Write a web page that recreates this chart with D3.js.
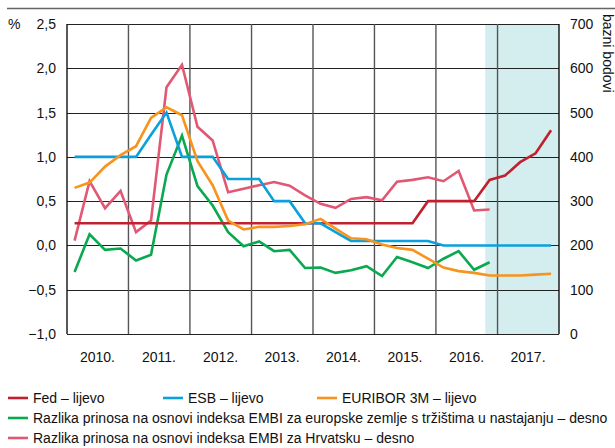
<!DOCTYPE html>
<html lang="hr">
<head>
<meta charset="utf-8">
<title>Kamatne stope i razlike prinosa</title>
<script src="https://cdn.jsdelivr.net/npm/d3@7"></script>
<style>
  body { margin: 0; background: #fff; }
  svg text { font-family: "Liberation Sans Narrow", "Arial Narrow", "Liberation Sans", sans-serif; fill: #111; }
</style>
</head>
<body>
<svg width="615" height="448"></svg>
<script>
// quarters (points sit at the middle of each quarter)
var quarters = ['2010Q1','2010Q2','2010Q3','2010Q4','2011Q1','2011Q2','2011Q3','2011Q4',
                '2012Q1','2012Q2','2012Q3','2012Q4','2013Q1','2013Q2','2013Q3','2013Q4',
                '2014Q1','2014Q2','2014Q3','2014Q4','2015Q1','2015Q2','2015Q3','2015Q4',
                '2016Q1','2016Q2','2016Q3','2016Q4','2017Q1','2017Q2','2017Q3','2017Q4'];
var years = [2010, 2011, 2012, 2013, 2014, 2015, 2016, 2017];
var leftTicks = [-1.0, -0.5, 0.0, 0.5, 1.0, 1.5, 2.0, 2.5];
var rightTicks = [0, 100, 200, 300, 400, 500, 600, 700];

// left axis (%)
var fed = [0.25,0.25,0.25,0.25,0.25,0.25,0.25,0.25,0.25,0.25,0.25,0.25,0.25,0.25,0.25,0.25,
           0.25,0.25,0.25,0.25,0.25,0.25,0.25,0.5,0.5,0.5,0.5,0.74,0.79,0.94,1.04,1.30];
var esb = [1.0,1.0,1.0,1.0,1.0,1.25,1.5,1.0,1.0,1.0,0.75,0.75,0.75,0.5,0.5,0.25,
           0.25,0.15,0.05,0.05,0.05,0.05,0.05,0.05,0,0,0,0,0,0,0,0];
var euribor = [0.65,0.71,0.89,1.02,1.12,1.44,1.56,1.47,0.95,0.68,0.28,0.18,0.21,0.21,0.22,0.24,
               0.30,0.19,0.08,0.07,0.01,-0.03,-0.05,-0.15,-0.25,-0.29,-0.31,-0.34,-0.34,-0.34,-0.33,-0.32];
// right axis (bazni bodovi)
var embiEu = [140,225,190,193,166,179,360,448,334,290,230,198,209,187,190,149,
              150,138,144,153,131,174,162,149,170,187,145,162];
var embiHr = [211,345,284,323,230,256,557,608,468,437,320,328,336,343,335,313,
              294,285,305,309,302,344,348,354,345,368,279,281];

var shadeStart = new Date(2016, 9, 20);
var shadeEnd = new Date(2018, 0, 1);

function qDate(q){
    var y = +q.slice(0,4), n = +q.slice(5);
    return new Date(y, (n-1)*3 + 1, 15);
}

var svg = d3.select('svg');
var L = 67, R = 559, T = 24, B = 334;

var x = d3.scaleTime().domain([new Date(2010,0,1), new Date(2018,0,1)]).range([L, R]);
var yL = d3.scaleLinear().domain([-1, 2.5]).range([B, T]);
var yR = d3.scaleLinear().domain([0, 700]).range([B, T]);

// top rule
svg.append('line').attr('x1', 7).attr('x2', 615).attr('y1', 8.5).attr('y2', 8.5)
    .style('stroke', '#666').style('stroke-width', 1.3);

// forecast shade
svg.append('rect')
    .attr('x', x(shadeStart)).attr('y', T)
    .attr('width', x(shadeEnd) - x(shadeStart)).attr('height', B - T)
    .style('fill', '#d4edef');

// grid
svg.selectAll('line.hgrid').data(leftTicks).enter().append('line')
    .attr('class', 'hgrid')
    .attr('x1', L).attr('x2', R)
    .attr('y1', d => Math.round(yL(d)) + 0.5).attr('y2', d => Math.round(yL(d)) + 0.5)
    .style('stroke', '#222').style('stroke-width', 1);

var yearStarts = years.concat([2018]).map(y => new Date(y, 0, 1));
svg.selectAll('line.vgrid').data(yearStarts).enter().append('line')
    .attr('class', 'vgrid')
    .attr('x1', d => x(d)).attr('x2', d => x(d))
    .attr('y1', T).attr('y2', B)
    .style('stroke', (d, i) => (i === 0 || i === yearStarts.length - 1) ? '#111' : '#555')
    .style('stroke-width', 1.4);

// series
var lineL = d3.line().x((d, i) => x(qDate(quarters[i]))).y(d => yL(d));
var lineR = d3.line().x((d, i) => x(qDate(quarters[i]))).y(d => yR(d));

var series = [
    {data: embiHr, gen: lineR, color: '#e05873'},
    {data: embiEu, gen: lineR, color: '#0aa84f'},
    {data: fed, gen: lineL, color: '#c1202e'},
    {data: esb, gen: lineL, color: '#0aa0dc'},
    {data: euribor, gen: lineL, color: '#f7941d'}
];
svg.selectAll('path.series').data(series).enter().append('path')
    .attr('class', 'series')
    .attr('d', d => d.gen(d.data))
    .style('fill', 'none')
    .style('stroke', d => d.color)
    .style('stroke-width', 2.6)
    .style('stroke-linejoin', 'miter');

// axis labels
svg.selectAll('text.lt').data(leftTicks).enter().append('text')
    .attr('class', 'lt')
    .attr('x', 56).attr('y', d => yL(d) + 5)
    .attr('text-anchor', 'end')
    .style('font-size', '14px')
    .text(d => d3.format('.1f')(d).replace('.', ',').replace('-', '\u2212'));

svg.selectAll('text.rt').data(rightTicks).enter().append('text')
    .attr('class', 'rt')
    .attr('x', 570).attr('y', d => yR(d) + 5)
    .style('font-size', '14px')
    .text(d => d);

svg.selectAll('text.yr').data(years).enter().append('text')
    .attr('class', 'yr')
    .attr('x', d => x(new Date(d, 6, 1)))
    .attr('y', 362)
    .attr('text-anchor', 'middle')
    .style('font-size', '14px')
    .text(d => d + '.');

svg.append('text').attr('x', 8).attr('y', 29).style('font-size', '14px').text('%');

svg.append('text')
    .attr('transform', 'translate(603,14) rotate(90)')
    .style('font-size', '14px')
    .text('bazni bodovi');

// legend
var legend = [
    {label: 'Fed \u2013 lijevo', color: '#c1202e', x: 8, y: 398},
    {label: 'ESB \u2013 lijevo', color: '#0aa0dc', x: 163, y: 398},
    {label: 'EURIBOR 3M \u2013 lijevo', color: '#f7941d', x: 317, y: 398},
    {label: 'Razlika prinosa na osnovi indeksa EMBI za europske zemlje s tr\u017ei\u0161tima u nastajanju \u2013 desno', color: '#0aa84f', x: 8, y: 418},
    {label: 'Razlika prinosa na osnovi indeksa EMBI za Hrvatsku \u2013 desno', color: '#e05873', x: 8, y: 438}
];
var lg = svg.selectAll('g.leg').data(legend).enter().append('g')
    .attr('class', 'leg')
    .attr('transform', d => 'translate(' + d.x + ',' + d.y + ')');
lg.append('line').attr('x1', 0).attr('x2', 20).attr('y1', 0).attr('y2', 0)
    .style('stroke', d => d.color).style('stroke-width', 2.6);
lg.append('text').attr('x', 25).attr('y', 5).style('font-size', '14px').text(d => d.label);
</script>
</body>
</html>
